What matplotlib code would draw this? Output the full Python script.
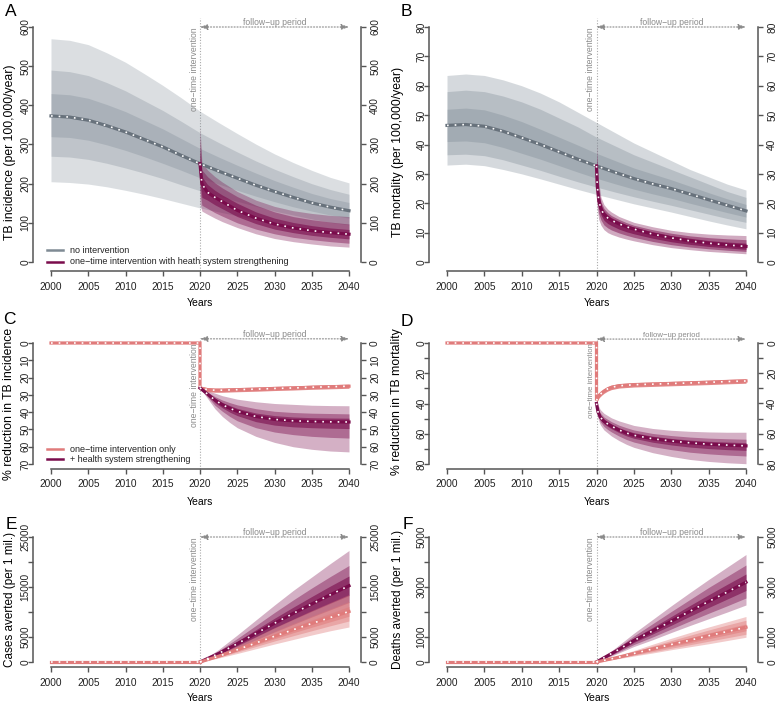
import matplotlib
matplotlib.use("Agg")
import matplotlib.pyplot as plt
from matplotlib.lines import Line2D

plt.rcParams["font.family"] = ["Liberation Sans", "DejaVu Sans"]

W, H = 778, 705

GRAY = "#7f8b96"
GRAY_MED = "#68727c"
PURPLE = "#7a0c4c"
PINK = "#e07b7b"
AXC = "#555555"
TXTC = "#8a8a8a"

# ---------------- dados ----------------
ANOS_BASE = [2000, 2002.5, 2005, 2007.5, 2010, 2012.5, 2015, 2017.5, 2020,
             2022.5, 2025, 2027.5, 2030, 2032.5, 2035, 2037.5, 2040]

# A: incidência sem intervenção (faixas: externa, p10-p90, p25-p75, mediana)
inc_sem_ext_hi = [570, 566, 555, 534, 510, 481, 451, 419, 385, 356, 328, 301, 276, 254, 234, 216, 202]
inc_sem_mid_hi = [490, 486, 476, 458, 437, 412, 387, 359, 330, 305, 281, 258, 237, 218, 200, 185, 173]
inc_sem_int_hi = [430, 427, 418, 402, 384, 362, 340, 315, 290, 268, 247, 227, 208, 191, 175, 162, 152]
inc_sem_med = [373, 370, 362, 348, 332, 313, 294, 272, 251, 232, 214, 196, 180, 165, 151, 140, 131]
inc_sem_int_lo = [320, 318, 311, 299, 285, 269, 252, 234, 215, 199, 183, 168, 154, 141, 130, 120, 112]
inc_sem_mid_lo = [270, 268, 262, 252, 240, 227, 213, 197, 182, 168, 155, 142, 130, 120, 110, 101, 95]
inc_sem_ext_lo = [205, 203, 199, 192, 183, 173, 162, 150, 138, 128, 118, 108, 99, 91, 84, 77, 72]

ANOS_INC_HSS = [2020, 2020.25, 2021, 2022, 2023, 2025, 2027.5, 2030, 2032.5, 2035, 2037.5, 2040]
inc_hss_ext_hi = [345, 255, 235, 218, 204, 180, 158, 142, 131, 124, 119, 116]
inc_hss_mid_hi = [320, 235, 218, 202, 189, 167, 145, 128, 116, 108, 102, 97]
inc_hss_int_hi = [290, 218, 198, 183, 171, 150, 128, 112, 101, 93, 87, 83]
inc_hss_med = [251, 200, 178, 165, 154, 132, 112, 97, 87, 80, 75, 71]
inc_hss_int_lo = [215, 165, 158, 146, 136, 116, 98, 84, 75, 68, 63, 59]
inc_hss_mid_lo = [182, 145, 137, 126, 117, 100, 84, 72, 63, 57, 52, 48]
inc_hss_ext_lo = [150, 130, 122, 112, 103, 88, 72, 60, 52, 46, 41, 38]

# B: mortalidade
mor_sem_ext_hi = [63.5, 64, 63.5, 62, 60, 57.5, 54.5, 51, 47.5, 44, 40.5, 37.5, 34.5, 31.5, 29, 26.5, 24.5]
mor_sem_mid_hi = [58, 58.5, 58, 56.5, 54.5, 52, 49, 46, 42.5, 39.5, 36.5, 34, 31.5, 29, 26.5, 24, 22]
mor_sem_int_hi = [52, 52.4, 51.8, 50, 47.8, 45.2, 42.5, 39.8, 37, 34.5, 32, 30, 28, 25.8, 23.6, 21.5, 19.6]
mor_sem_med = [46.5, 46.8, 46.2, 44.5, 42.3, 40, 37.5, 35, 32.7, 30.5, 28.4, 26.6, 25, 23.1, 21.2, 19.3, 17.4]
mor_sem_int_lo = [41, 41.2, 40.6, 39, 37, 35, 32.8, 30.6, 28.5, 26.6, 24.8, 23.2, 21.7, 20, 18.4, 16.8, 15.3]
mor_sem_mid_lo = [36.5, 36.7, 36.2, 34.8, 33, 31.2, 29.2, 27.3, 25.5, 23.8, 22.2, 20.7, 19.3, 17.8, 16.3, 14.8, 13.5]
mor_sem_ext_lo = [33, 33.3, 32.8, 31.5, 30, 28.3, 26.5, 24.7, 23, 21.4, 19.8, 18.4, 17, 15.5, 14, 12.6, 11.3]

ANOS_MOR_HSS = [2020, 2020.1, 2020.3, 2020.6, 2021, 2021.5, 2022, 2023, 2024, 2025,
                2027.5, 2030, 2032.5, 2035, 2037.5, 2040]
mor_hss_ext_hi = [40.5, 33, 27, 22, 19.5, 18, 17, 15.5, 14.5, 13.5, 12, 10.8, 10, 9.5, 9.2, 9.0]
mor_hss_mid_hi = [37, 30, 24.5, 20.5, 18.2, 16.8, 15.8, 14.5, 13.4, 12.5, 11, 9.8, 8.9, 8.3, 7.9, 7.6]
mor_hss_int_hi = [35, 28, 23, 19.5, 17.3, 16, 15.1, 13.8, 12.7, 11.9, 10.3, 9.0, 8.1, 7.3, 6.8, 6.4]
mor_hss_med = [32.7, 26, 21, 18, 16.2, 15, 14.2, 13, 12, 11.2, 9.5, 8.2, 7.2, 6.4, 5.8, 5.3]
mor_hss_int_lo = [30, 23.5, 18.8, 16, 14.2, 13.1, 12.4, 11.2, 10.3, 9.6, 8.1, 6.9, 6.0, 5.3, 4.8, 4.3]
mor_hss_mid_lo = [27, 20.5, 16.5, 14.3, 12.6, 11.6, 10.9, 9.9, 9.1, 8.4, 7, 5.9, 5.1, 4.5, 4, 3.6]
mor_hss_ext_lo = [24, 18, 14.5, 12.5, 11, 10, 9.4, 8.5, 7.8, 7.2, 5.9, 4.9, 4.2, 3.6, 3.2, 2.8]

# C: % de redução na incidência
ANOS_RED_INC_SO = [2000, 2020, 2020, 2021, 2022, 2023, 2025, 2027.5, 2030, 2032.5, 2035, 2037.5, 2040]
red_inc_so_med = [0, 0, 26, 27, 27.3, 27.3, 27, 26.7, 26.3, 26, 25.6, 25.3, 25]
red_inc_so_lo = [0, 0, 25, 25.8, 26.1, 26.1, 25.8, 25.5, 25.1, 24.8, 24.4, 24.1, 23.8]
red_inc_so_hi = [0, 0, 27, 28.2, 28.5, 28.5, 28.2, 27.9, 27.5, 27.2, 26.8, 26.5, 26.2]

ANOS_RED_INC_HSS = [2020, 2021, 2022, 2023, 2024, 2025, 2027.5, 2030, 2032.5, 2035, 2037.5, 2040]
red_inc_hss_ext_lo = [26, 27.5, 29, 30.5, 31.5, 32.5, 34, 35, 35.5, 36, 36.2, 36.3]
red_inc_hss_mid_lo = [26, 28.5, 31, 33, 34.5, 35.8, 38, 39.5, 40.2, 40.6, 40.8, 41]
red_inc_hss_int_lo = [26, 29, 32, 34.4, 36.2, 37.8, 40.5, 42, 42.8, 43.2, 43.4, 43.5]
red_inc_hss_med = [26, 29.5, 33, 35.7, 37.8, 39.5, 42.5, 44.2, 45, 45.4, 45.6, 45.7]
red_inc_hss_int_hi = [26, 30, 34.5, 37.5, 40, 42, 45.5, 47.5, 48.5, 49, 49.3, 49.5]
red_inc_hss_mid_hi = [26, 31, 36, 39.5, 42.5, 45, 49, 51.5, 53, 54, 54.6, 55]
red_inc_hss_ext_hi = [26, 32, 38, 42.5, 46, 49, 54, 57.5, 60, 61.5, 62.5, 63]

# D: % de redução na mortalidade
ANOS_RED_MOR_SO = [2000, 2020, 2020, 2020.3, 2020.7, 2021, 2021.5, 2022, 2023, 2025,
                   2027.5, 2030, 2032.5, 2035, 2037.5, 2040]
red_mor_so_med = [0, 0, 38, 35, 33, 31.8, 30.3, 29.3, 28.3, 27.6, 27.2, 26.8, 26.4, 26, 25.5, 25.1]
red_mor_so_lo = [0, 0, 36.5, 33.5, 31.5, 30.3, 28.8, 27.8, 26.8, 26.1, 25.7, 25.3, 24.9, 24.5, 24, 23.6]
red_mor_so_hi = [0, 0, 39.5, 36.5, 34.5, 33.3, 31.8, 30.8, 29.8, 29.1, 28.7, 28.3, 27.9, 27.5, 27, 26.6]

ANOS_RED_MOR_HSS = [2020, 2020.2, 2020.5, 2021, 2021.5, 2022, 2023, 2024, 2025,
                    2027.5, 2030, 2032.5, 2035, 2037.5, 2040]
red_mor_hss_ext_lo = [38, 41, 44, 46.5, 48, 49.5, 51.5, 53, 54.5, 56.5, 57.7, 58.4, 58.8, 59, 59]
red_mor_hss_mid_lo = [39, 43, 46.3, 49, 50.5, 52, 54.3, 56, 57.5, 59.8, 61.2, 62.2, 62.9, 63.3, 63.6]
red_mor_hss_int_lo = [39.5, 44.3, 47.7, 50.4, 52, 53.5, 56, 57.8, 59.3, 61.6, 63.1, 64.2, 65, 65.5, 65.9]
red_mor_hss_med = [40, 45.5, 49, 51.8, 53.5, 55, 57.5, 59.5, 61, 63.3, 64.8, 66, 66.9, 67.5, 68]
red_mor_hss_int_hi = [40.5, 46.8, 50.4, 53.4, 55.2, 56.7, 59.2, 61.4, 63, 65.6, 67.4, 68.8, 69.8, 70.5, 71]
red_mor_hss_mid_hi = [41, 48, 52, 55.2, 57.2, 58.8, 61.5, 63.8, 65.5, 68.5, 70.5, 72.2, 73.3, 74.1, 74.7]
red_mor_hss_ext_hi = [42, 50, 54, 57.5, 59.5, 61.5, 64.5, 67, 69, 72.5, 75, 77, 78.3, 79.2, 79.8]

# E/F: casos e óbitos evitados (por 1 milhão)
ANOS_PRE = [2000, 2020]
zeros_pre = [0, 0]
ANOS_EVIT = [2020, 2022.5, 2025, 2027.5, 2030, 2032.5, 2035, 2037.5, 2040]

cas_hss_ext_hi = [0, 2500, 5400, 8400, 11400, 14300, 17000, 19700, 22300]
cas_hss_mid_hi = [0, 2200, 4700, 7300, 9900, 12400, 14800, 17100, 19300]
cas_hss_int_hi = [0, 1950, 4150, 6450, 8750, 10950, 13100, 15200, 17200]
cas_hss_med = [0, 1700, 3650, 5700, 7750, 9700, 11600, 13450, 15250]
cas_hss_int_lo = [0, 1500, 3200, 5000, 6800, 8500, 10150, 11750, 13300]
cas_hss_mid_lo = [0, 1300, 2800, 4400, 6000, 7500, 9000, 10450, 11900]
cas_hss_ext_lo = [0, 1100, 2400, 3800, 5200, 6550, 7850, 9100, 10300]

cas_so_ext_hi = [0, 1550, 3300, 5100, 6900, 8600, 10300, 11900, 13500]
cas_so_mid_hi = [0, 1400, 2950, 4550, 6150, 7700, 9200, 10650, 12100]
cas_so_int_hi = [0, 1280, 2700, 4150, 5600, 7000, 8400, 9750, 11100]
cas_so_med = [0, 1150, 2450, 3800, 5150, 6450, 7700, 8900, 10100]
cas_so_int_lo = [0, 1050, 2220, 3450, 4650, 5850, 6950, 8050, 9150]
cas_so_mid_lo = [0, 950, 2000, 3100, 4200, 5250, 6250, 7250, 8200]
cas_so_ext_lo = [0, 800, 1700, 2650, 3600, 4500, 5400, 6250, 7000]

obi_hss_ext_hi = [0, 560, 1150, 1700, 2250, 2780, 3300, 3800, 4300]
obi_hss_mid_hi = [0, 510, 1040, 1530, 2020, 2500, 2980, 3430, 3880]
obi_hss_int_hi = [0, 460, 950, 1380, 1820, 2260, 2690, 3110, 3520]
obi_hss_med = [0, 420, 860, 1240, 1630, 2030, 2420, 2800, 3190]
obi_hss_int_lo = [0, 380, 780, 1120, 1470, 1830, 2180, 2520, 2860]
obi_hss_mid_lo = [0, 340, 700, 1000, 1320, 1640, 1950, 2250, 2560]
obi_hss_ext_lo = [0, 300, 620, 890, 1180, 1460, 1730, 2000, 2280]

obi_so_ext_hi = [0, 220, 460, 710, 950, 1180, 1400, 1610, 1820]
obi_so_mid_hi = [0, 200, 420, 640, 860, 1070, 1280, 1480, 1670]
obi_so_int_hi = [0, 180, 380, 580, 780, 970, 1160, 1340, 1520]
obi_so_med = [0, 160, 340, 520, 700, 870, 1050, 1220, 1390]
obi_so_int_lo = [0, 140, 300, 460, 620, 770, 930, 1090, 1250]
obi_so_mid_lo = [0, 125, 270, 410, 550, 690, 830, 970, 1110]
obi_so_ext_lo = [0, 110, 240, 360, 490, 610, 730, 860, 990]

ANOS_TICKS = [2000, 2005, 2010, 2015, 2020, 2025, 2030, 2035, 2040]


# ---------------- auxiliares ----------------
def fx(x):
    return x / W


def fy(y):
    return 1 - y / H


def criar_eixo(fig, xpx, ypx, yfaixa, invertido=False):
    """Eixo no estilo R: região de plotagem 4% maior que os dados."""
    x0, x1 = xpx
    yt, yb = ypx
    ex = (x1 - x0) * 0.04
    ey = (yb - yt) * 0.04
    ax = fig.add_axes([fx(x0 - ex), fy(yb + ey), (x1 - x0 + 2 * ex) / W, (yb - yt + 2 * ey) / H])
    ax.set_xlim(2000 - 1.6, 2040 + 1.6)
    lo, hi = yfaixa
    r = (hi - lo) * 0.04
    if invertido:
        ax.set_ylim(hi + r, lo - r)
    else:
        ax.set_ylim(lo - r, hi + r)
    ax.patch.set_visible(False)
    return ax


def estilizar(ax, yticks, yrotulos):
    for lado in ("top", "right"):
        ax.spines[lado].set_visible(False)
    for lado in ("left", "bottom"):
        ax.spines[lado].set_color(AXC)
        ax.spines[lado].set_linewidth(1.1)
    ax.spines["left"].set_position(("outward", 4.3))
    ax.spines["left"].set_bounds(min(yticks), max(yticks))
    ax.spines["bottom"].set_bounds(2000, 2040)
    ax.set_xticks(ANOS_TICKS)
    ax.set_xticklabels([str(a) for a in ANOS_TICKS])
    ax.set_yticks(yticks)
    ax.set_yticklabels(yrotulos, rotation=90, va="center")
    ax.tick_params(axis="both", direction="out", length=3.6, width=1, color=AXC,
                   labelsize=7.3, labelcolor="#222222")
    ax.tick_params(axis="x", pad=4)
    ax.tick_params(axis="y", pad=-1.8)

    ax2 = ax.twinx()
    ax2.set_ylim(ax.get_ylim())
    for lado in ("top", "left", "bottom"):
        ax2.spines[lado].set_visible(False)
    ax2.spines["right"].set_color(AXC)
    ax2.spines["right"].set_linewidth(1.1)
    ax2.spines["right"].set_bounds(min(yticks), max(yticks))
    ax2.set_yticks(yticks)
    ax2.set_yticklabels(yrotulos, rotation=90, va="center")
    ax2.tick_params(axis="y", direction="out", length=3.6, width=1, color=AXC,
                    labelsize=7.3, labelcolor="#222222", pad=3)


def faixas(ax, x, camadas, cor, alfas=(0.28, 0.3, 0.32)):
    for (lo, hi), a in zip(camadas, alfas):
        ax.fill_between(x, lo, hi, color=cor, alpha=a, lw=0, zorder=2)


def mediana(ax, x, y, cor):
    ax.plot(x, y, color=cor, lw=2.3, zorder=4, solid_joinstyle="miter")
    ax.plot(x, y, color="white", lw=1.2, dashes=(1, 3.6), zorder=5)


def marcas_intervencao(ax, ytopo, yseta, tam=6.2):
    ax.axvline(2020, color="#aaaaaa", lw=0.8, ls=(0, (1, 1.5)), zorder=1)
    ax.text(2019.85, ytopo, "one\u2212time intervention", rotation=90, ha="right", va="top",
            fontsize=tam, color=TXTC, zorder=6)
    ax.annotate("", xy=(2040, yseta), xytext=(2020, yseta),
                arrowprops=dict(arrowstyle="<|-|>,head_length=0.45,head_width=0.16",
                                color="#8a8a8a", lw=0.8, ls=":", shrinkA=0, shrinkB=0))
    ax.text(2030, yseta, "follow\u2212up period", ha="center", va="bottom",
            fontsize=tam, color=TXTC)


def legenda(fig, itens, ys, x0=47, x1=63, xt=70):
    for (rotulo, cor), y in zip(itens, ys):
        fig.add_artist(Line2D([fx(x0), fx(x1)], [fy(y), fy(y)], color=cor, lw=1.8,
                              transform=fig.transFigure))
        fig.text(fx(xt), fy(y), rotulo, fontsize=6.5, va="center", ha="left", color="#222222")


fig = plt.figure(figsize=(W / 100, H / 100), dpi=100)

COL_E = (51, 349)
COL_D = (447, 746)
LIN1 = (27, 262)
LIN2 = (343, 464)
LIN3 = (537, 662)

ALFA_ROXO = (0.32, 0.42, 0.6)
ALFA_ROSA = (0.4, 0.45, 0.55)

# ---------- A ----------
ax = criar_eixo(fig, COL_E, LIN1, (0, 600))
faixas(ax, ANOS_BASE, [(inc_sem_ext_lo, inc_sem_ext_hi), (inc_sem_mid_lo, inc_sem_mid_hi),
                       (inc_sem_int_lo, inc_sem_int_hi)], GRAY)
faixas(ax, ANOS_INC_HSS, [(inc_hss_ext_lo, inc_hss_ext_hi), (inc_hss_mid_lo, inc_hss_mid_hi),
                          (inc_hss_int_lo, inc_hss_int_hi)], PURPLE, ALFA_ROXO)
mediana(ax, ANOS_BASE, inc_sem_med, GRAY_MED)
mediana(ax, ANOS_INC_HSS, inc_hss_med, PURPLE)
marcas_intervencao(ax, 600, 600)
estilizar(ax, [0, 100, 200, 300, 400, 500, 600], ["0", "100", "200", "300", "400", "500", "600"])

# ---------- B ----------
ax = criar_eixo(fig, COL_D, LIN1, (0, 80))
faixas(ax, ANOS_BASE, [(mor_sem_ext_lo, mor_sem_ext_hi), (mor_sem_mid_lo, mor_sem_mid_hi),
                       (mor_sem_int_lo, mor_sem_int_hi)], GRAY, (0.32, 0.34, 0.36))
faixas(ax, ANOS_MOR_HSS, [(mor_hss_ext_lo, mor_hss_ext_hi), (mor_hss_mid_lo, mor_hss_mid_hi),
                          (mor_hss_int_lo, mor_hss_int_hi)], PURPLE, (0.35, 0.5, 0.7))
mediana(ax, ANOS_BASE, mor_sem_med, GRAY_MED)
mediana(ax, ANOS_MOR_HSS, mor_hss_med, PURPLE)
marcas_intervencao(ax, 80, 80)
estilizar(ax, [0, 10, 20, 30, 40, 50, 60, 70, 80], ["0", "10", "20", "30", "40", "50", "60", "70", "80"])

# ---------- C ----------
ax = criar_eixo(fig, COL_E, LIN2, (0, 70), invertido=True)
faixas(ax, ANOS_RED_INC_HSS, [(red_inc_hss_ext_lo, red_inc_hss_ext_hi),
                              (red_inc_hss_mid_lo, red_inc_hss_mid_hi),
                              (red_inc_hss_int_lo, red_inc_hss_int_hi)], PURPLE, ALFA_ROXO)
faixas(ax, ANOS_RED_INC_SO, [(red_inc_so_lo, red_inc_so_hi)], PINK, alfas=(0.9,))
mediana(ax, ANOS_RED_INC_SO, red_inc_so_med, PINK)
mediana(ax, ANOS_RED_INC_HSS, red_inc_hss_med, PURPLE)
marcas_intervencao(ax, 0, -2.4)
estilizar(ax, [0, 10, 20, 30, 40, 50, 60, 70], ["0", "10", "20", "30", "40", "50", "60", "70"])

# ---------- D ----------
ax = criar_eixo(fig, COL_D, LIN2, (0, 80), invertido=True)
faixas(ax, ANOS_RED_MOR_HSS, [(red_mor_hss_ext_lo, red_mor_hss_ext_hi),
                              (red_mor_hss_mid_lo, red_mor_hss_mid_hi),
                              (red_mor_hss_int_lo, red_mor_hss_int_hi)], PURPLE, ALFA_ROXO)
faixas(ax, ANOS_RED_MOR_SO, [(red_mor_so_lo, red_mor_so_hi)], PINK, alfas=(0.9,))
mediana(ax, ANOS_RED_MOR_SO, red_mor_so_med, PINK)
mediana(ax, ANOS_RED_MOR_HSS, red_mor_hss_med, PURPLE)
marcas_intervencao(ax, 0, -2.6, tam=5.6)
estilizar(ax, [0, 10, 20, 30, 40, 50, 60, 70, 80], ["0", "", "20", "", "40", "", "60", "", "80"])

# ---------- E ----------
ax = criar_eixo(fig, COL_E, LIN3, (0, 25000))
faixas(ax, ANOS_EVIT, [(cas_hss_ext_lo, cas_hss_ext_hi), (cas_hss_mid_lo, cas_hss_mid_hi),
                       (cas_hss_int_lo, cas_hss_int_hi)], PURPLE, ALFA_ROXO)
faixas(ax, ANOS_EVIT, [(cas_so_ext_lo, cas_so_ext_hi), (cas_so_mid_lo, cas_so_mid_hi),
                       (cas_so_int_lo, cas_so_int_hi)], PINK, ALFA_ROSA)
mediana(ax, ANOS_EVIT, cas_hss_med, PURPLE)
mediana(ax, ANOS_EVIT, cas_so_med, PINK)
mediana(ax, ANOS_PRE, zeros_pre, PINK)
marcas_intervencao(ax, 25000, 25000)
estilizar(ax, [0, 5000, 10000, 15000, 20000, 25000], ["0", "5000", "", "15000", "", "25000"])

# ---------- F ----------
ax = criar_eixo(fig, COL_D, LIN3, (0, 5000))
faixas(ax, ANOS_EVIT, [(obi_hss_ext_lo, obi_hss_ext_hi), (obi_hss_mid_lo, obi_hss_mid_hi),
                       (obi_hss_int_lo, obi_hss_int_hi)], PURPLE, ALFA_ROXO)
faixas(ax, ANOS_EVIT, [(obi_so_ext_lo, obi_so_ext_hi), (obi_so_mid_lo, obi_so_mid_hi),
                       (obi_so_int_lo, obi_so_int_hi)], PINK, ALFA_ROSA)
mediana(ax, ANOS_EVIT, obi_hss_med, PURPLE)
mediana(ax, ANOS_EVIT, obi_so_med, PINK)
mediana(ax, ANOS_PRE, zeros_pre, PINK)
marcas_intervencao(ax, 5000, 5000)
estilizar(ax, [0, 1000, 2000, 3000, 4000, 5000], ["0", "1000", "", "3000", "", "5000"])

# ---------- textos ----------
for letra, x, y in [("A", 5, 16.5), ("B", 401, 15.5), ("C", 3, 323.5),
                    ("D", 401, 326), ("E", 6, 529), ("F", 403, 529)]:
    fig.text(fx(x), fy(y), letra, fontsize=12.5, ha="left", va="baseline")

for y in (303, 502, 698):
    fig.text(fx(200), fy(y), "Years", fontsize=7.5, ha="center", va="center")
    fig.text(fx(596.5), fy(y), "Years", fontsize=7.5, ha="center", va="center")

rotulos_y = [("TB incidence (per 100,000/year)", 10, 152, 8.8),
             ("TB mortality (per 100,000/year)", 398, 152, 8.8),
             ("% reduction in TB incidence", 9, 404, 8.8),
             ("% reduction in TB mortality", 397, 402, 8.8),
             ("Cases averted (per 1 mil.)", 10, 599, 8.5),
             ("Deaths averted (per 1 mil.)", 398, 599, 8.5)]
for texto, x, y, tam in rotulos_y:
    fig.text(fx(x), fy(y), texto, fontsize=tam, rotation=90, ha="center", va="center")

legenda(fig, [("no intervention", "#7f8a94"),
              ("one\u2212time intervention with heath system strengthening", PURPLE)], [250, 262])
legenda(fig, [("one\u2212time intervention only", PINK),
              ("+ health system strengthening", PURPLE)], [449, 459])

fig.savefig("out.png", dpi=100)
